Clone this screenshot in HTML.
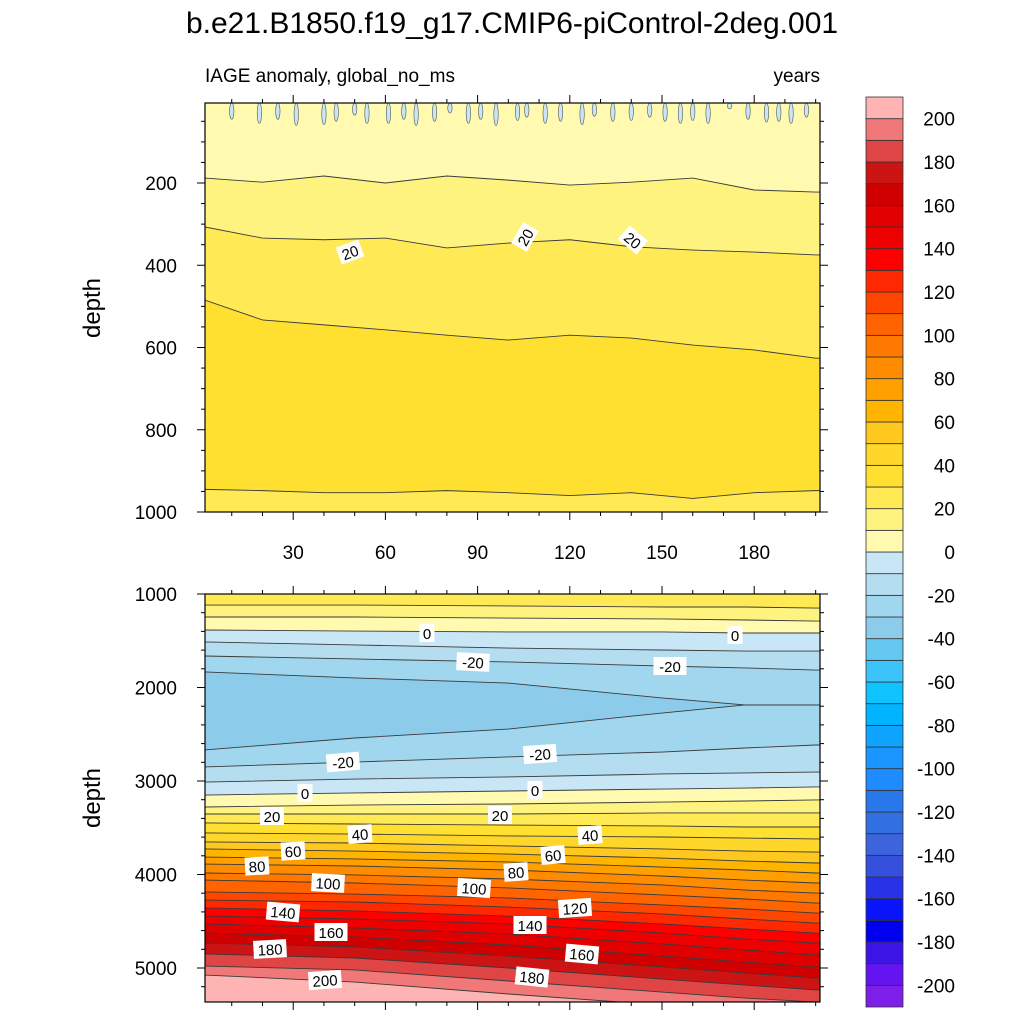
<!DOCTYPE html>
<html><head><meta charset="utf-8"><style>
html,body{margin:0;padding:0;background:#fff;}
svg{display:block;font-family:"Liberation Sans",Arial,sans-serif;}
</style></head><body>
<svg id="c" width="1024" height="1024" viewBox="0 0 1024 1024" xmlns="http://www.w3.org/2000/svg">
<text x="512" y="33" font-size="30" text-anchor="middle">b.e21.B1850.f19_g17.CMIP6-piControl-2deg.001</text>
<text x="205" y="82" font-size="19">IAGE anomaly, global_no_ms</text>
<text x="820" y="82" font-size="19" text-anchor="end">years</text>
<text transform="translate(100,308) rotate(-90)" font-size="24" text-anchor="middle">depth</text>
<text transform="translate(100,798) rotate(-90)" font-size="24" text-anchor="middle">depth</text>
<g id="top"></g><g id="bot"></g><g id="cb"></g>
</svg>
<script>
// ---- data ----
const colors=["#7d1fe8","#6414f0","#3c14e6","#0000f0","#0a14fa","#2832e6","#3550dc","#3c64dc","#3270e1","#2878eb","#1e8cff","#1996ff","#0fa5ff","#00b4ff","#0fc3ff","#3cc3fa","#64c8f0","#8ccbea","#a0d6ee","#b4ddf0","#c8e6f5","#fffab0","#fff380","#ffea55","#ffe030","#ffd72a","#ffc81e","#ffb400","#ffa000","#ff8c00","#ff7800","#ff6400","#ff4600","#ff2800","#ff0000","#ee0000","#e00000","#d00000","#cc1414","#e04545","#f07878","#ffb4b4"];
const cbLabels=[200,180,160,140,120,100,80,60,40,20,0,-20,-40,-60,-80,-100,-120,-140,-160,-180,-200];
const topYears=[1,20,40,60,80,100,120,140,160,180,200];
const topLevels=[10,20,30,30];
const topC10=[188,198,183,200,183,193,205,198,188,217,222];
const topC20=[307,334,338,334,358,346,338,355,363,368,375];
const topC30a=[485,533,545,557,570,582,570,577,594,606,626];
const topC30b=[945,948,953,953,948,953,960,953,967,953,948];
const topBandTop=0;
const topBands=[10,20,30,20];
const blipYears=[10,19,25,31,40,44,50,54,61,66,70,76,81,87,91,96,103,106,112,117,124,128,134,140,146,151,156,160,165,172,178,184,188,192,197];
const blipDepth=[45,55,45,60,58,50,35,55,55,45,60,50,30,55,45,60,48,40,55,50,58,38,50,48,40,50,55,48,55,20,45,52,50,55,40];
const botYears=[1,50,100,150,177,200];
const botLevels=[20,10,0,-10,-20,-30,-30,-20,-10,0,10,20,30,40,50,60,70,80,90,100,110,120,130,140,150,160,170,180,190,200];
const botContours=[
[1118,1118,1128,1139,1139,1150],[1246,1246,1257,1267,1278,1289],[1385,1396,1406,1406,1417,1417],
[1513,1545,1578,1599,1610,1610],[1663,1695,1727,1770,1791,1813],[1834,1898,1952,2112,2187,2187],
[2668,2540,2444,2273,2187,2187],[2850,2797,2743,2690,2647,2615],[3011,2979,2957,2925,2914,2904],
[3150,3128,3107,3086,3075,3064],[3278,3257,3246,3225,3214,3203],[3353,3353,3353,3342,3342,3342],
[3449,3460,3471,3481,3492,3492],[3556,3567,3588,3599,3610,3620],[3652,3663,3695,3727,3749,3760],
[3727,3749,3781,3824,3856,3877],[3813,3834,3866,3920,3952,3984],[3888,3909,3952,4016,4059,4091],
[3984,4005,4048,4112,4166,4198],[4059,4091,4144,4219,4262,4305],[4187,4209,4251,4326,4369,4412],
[4273,4294,4348,4422,4476,4519],[4358,4390,4444,4529,4583,4626],[4444,4476,4529,4626,4690,4733],
[4529,4572,4636,4743,4807,4861],[4626,4669,4754,4872,4936,4989],[4733,4775,4872,4989,5053,5107],
[4850,4893,5000,5118,5182,5235],[4979,5021,5139,5257,5321,5364],[5075,5150,5278,5396,5449,5503]];
const botBandTop=20;
const botBands=[10,0,-10,-20,-30,-40,-30,-20,-10,0,10,20,30,40,50,60,70,80,90,100,110,120,130,140,150,160,170,180,190,200];
const topLabelText=["20","20","20"];
const topLabelPos=[[350,252,-20],[525,237,-60],[633,240,40]];
const botLabelText=["0","0","-20","-20","-20","-20","0","0","20","20","40","40","60","60","80","80","100","100","120","140","140","160","160","180","180","200"];
const botLabelPos=[[427,633,0],[735,635,0],[473,662,3],[670,666,0],[343,762,-5],[540,754,-4],[305,793,0],[535,790,0],[272,816,0],[500,815,0],[360,834,-4],[590,835,-4],[293,851,-3],[553,855,-5],[257,866,-3],[516,872,-4],[328,883,3],[474,888,4],[575,908,-4],[283,912,5],[530,925,0],[331,932,0],[582,954,5],[270,949,-3],[532,977,6],[325,980,-4]];
// ---- helpers ----
const NS="http://www.w3.org/2000/svg";
function mk(tag,attrs,parent){const e=document.createElementNS(NS,tag);for(const k in attrs)e.setAttribute(k,attrs[k]);parent.appendChild(e);return e;}
const X0=205,X1=820;
const xs=yr=>201+yr*3.0733;
const ysTop=d=>100.75+d/2.4316;
const ysBot=d=>594+(d-1000)*0.0935;
const colorFor=lo=>colors[lo/10+21];
function linePts(years,depths,ys){return years.map((y,i)=>[Math.max(X0,Math.min(X1,xs(y))),ys(depths[i])]);}
function drawPanel(g,name,yT,yB,ys,years,contours,bandTop,bands){
  const cp="clip-"+name;
  const defs=mk("defs",{},g);const cpe=mk("clipPath",{id:cp},defs);mk("rect",{x:X0,y:yT,width:X1-X0,height:yB-yT},cpe);
  const inner=mk("g",{"clip-path":"url(#"+cp+")"},g);
  const bg=mk("rect",{x:X0,y:yT,width:X1-X0,height:yB-yT,fill:colorFor(bandTop)},inner);
  
  
  contours.forEach((dep,i)=>{
    const p=linePts(years,dep,ys);
    let pts=[[X0,p[0][1]],...p,[X1,p[p.length-1][1]],[X1,yB+20],[X0,yB+20]];
    const poly=mk("polygon",{points:pts.map(q=>q.join(",")).join(" "),fill:colorFor(bands[i])},inner);
    
    
  });
  contours.forEach((dep,i)=>{
    const p=linePts(years,dep,ys);
    const pts=[[X0,p[0][1]],...p,[X1,p[p.length-1][1]]];
    const pl=mk("polyline",{points:pts.map(q=>q.join(",")).join(" "),fill:"none",stroke:"#3a3a3a","stroke-width":0.9},inner);
    
    
  });
  return inner;
}
function frame(g,name,yT,yB){
  const r=mk("rect",{x:X0,y:yT,width:X1-X0,height:yB-yT,fill:"none",stroke:"#000","stroke-width":1.2},g);
  
  
  for(let yr=10;yr<=200;yr+=10){
    const x=xs(yr),L=(yr%30===0)?8:4;
    mk("line",{x1:x,x2:x,y1:yT,y2:yT-L,stroke:"#000"},g);
    mk("line",{x1:x,x2:x,y1:yB,y2:yB+L,stroke:"#000"},g);
  }
}
function labels(g,texts,pos,prefix){
  texts.forEach((t,i)=>{
    const [x,y,a]=pos[i];
    const lg=mk("g",{transform:`translate(${x},${y}) rotate(${a})`},g);
    
    
    const w=t.length*9+6;
    mk("rect",{x:-w/2,y:-9,width:w,height:18,fill:"#fff"},lg);
    const tx=mk("text",{x:0,y:6,"font-size":15,"text-anchor":"middle"},lg);tx.textContent=t;
  });
}
// ---- top panel ----
const gt=document.getElementById("top");


const innerT=drawPanel(gt,"top",103,512,ysTop,topYears,[topC10,topC20,topC30a,topC30b],topBandTop,topBands);
blipYears.forEach((yr,i)=>{
  const yb=ysTop(blipDepth[i]);
  const e=mk("ellipse",{cx:xs(yr),cy:(103+yb)/2,rx:2.2,ry:(yb-103)/2,fill:"#c8e6f5",stroke:"#555","stroke-width":0.6},innerT);
  
  
});
frame(gt,"top",103,512);
for(let d=50;d<=1000;d+=50){const y=ysTop(d);if(y<103)continue;const L=d%200===0?8:4;
  mk("line",{x1:X0,x2:X0-L,y1:y,y2:y,stroke:"#000"},gt);mk("line",{x1:X1,x2:X1+L,y1:y,y2:y,stroke:"#000"},gt);
  if(d%200===0){const t=mk("text",{x:177,y:y+7,"font-size":19,"text-anchor":"end"},gt);t.textContent=d;
    }}
for(let yr=30;yr<=180;yr+=30){const t=mk("text",{x:xs(yr),y:559,"font-size":19,"text-anchor":"middle"},gt);t.textContent=yr;
  }
labels(gt,topLabelText,topLabelPos,"top");
// ---- bottom panel ----
const gb=document.getElementById("bot");


drawPanel(gb,"bottom",594,1002,ysBot,botYears,botContours,botBandTop,botBands);
frame(gb,"bottom",594,1002);
for(let d=1000;d<=5400;d+=200){const y=ysBot(d);if(y>1002)continue;const L=d%1000===0?8:4;
  mk("line",{x1:X0,x2:X0-L,y1:y,y2:y,stroke:"#000"},gb);mk("line",{x1:X1,x2:X1+L,y1:y,y2:y,stroke:"#000"},gb);
  if(d%1000===0){const t=mk("text",{x:177,y:y+7,"font-size":19,"text-anchor":"end"},gb);t.textContent=d;
    }}
labels(gb,botLabelText,botLabelPos,"bottom");
// ---- colorbar ----
const gc=document.getElementById("cb");


const CT=97,CB=1007,CX=866,CW=37,bh=(CB-CT)/colors.length;
colors.forEach((c,i)=>{
  const r=mk("rect",{x:CX,y:CB-(i+1)*bh,width:CW,height:bh,fill:c,stroke:"#333","stroke-width":0.8},gc);
  
  
});
cbLabels.forEach(v=>{
  const y=CB-(v/10+21)*bh;
  const t=mk("text",{x:955,y:y+7,"font-size":19,"text-anchor":"end"},gc);t.textContent=v;
  
});
</script>
</body></html>
